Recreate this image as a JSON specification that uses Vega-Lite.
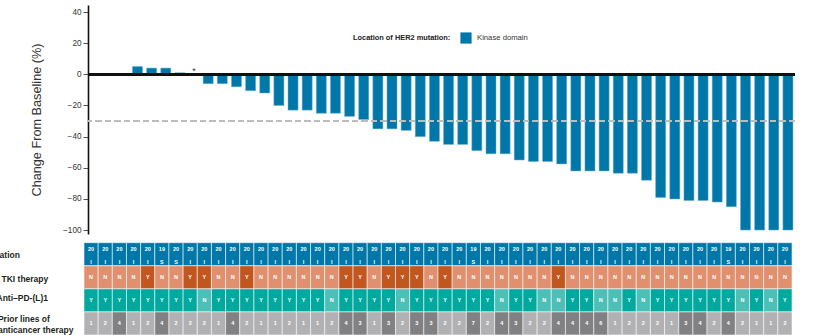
{
  "$schema": "https://vega.github.io/schema/vega-lite/v6.json",
  "width": 707,
  "height": 330,
  "autosize": {"type": "none"},
  "padding": {"left": 88, "top": 5, "right": 20, "bottom": 0},
  "config": {
    "font": "Liberation Sans",
    "view": {"stroke": null}
  },
  "data": {
    "values": [
      {"id": 0, "chg": null, "exon": "20", "type": "I", "tki": "N", "pd": "Y", "lines": 1, "note": ""},
      {"id": 1, "chg": null, "exon": "20", "type": "I", "tki": "N", "pd": "Y", "lines": 2, "note": ""},
      {"id": 2, "chg": null, "exon": "20", "type": "I", "tki": "N", "pd": "Y", "lines": 4, "note": ""},
      {"id": 3, "chg": 5, "exon": "20", "type": "I", "tki": "N", "pd": "Y", "lines": 1, "note": ""},
      {"id": 4, "chg": 4, "exon": "20", "type": "I", "tki": "Y", "pd": "Y", "lines": 2, "note": ""},
      {"id": 5, "chg": 4, "exon": "19", "type": "S", "tki": "N", "pd": "Y", "lines": 4, "note": ""},
      {"id": 6, "chg": 1, "exon": "20", "type": "S", "tki": "N", "pd": "Y", "lines": 2, "note": ""},
      {"id": 7, "chg": 0, "exon": "20", "type": "I", "tki": "Y", "pd": "Y", "lines": 2, "note": "*"},
      {"id": 8, "chg": -6, "exon": "20", "type": "I", "tki": "Y", "pd": "N", "lines": 2, "note": ""},
      {"id": 9, "chg": -6, "exon": "20", "type": "I", "tki": "N", "pd": "Y", "lines": 1, "note": ""},
      {"id": 10, "chg": -8, "exon": "20", "type": "I", "tki": "N", "pd": "Y", "lines": 4, "note": ""},
      {"id": 11, "chg": -10.5, "exon": "20", "type": "I", "tki": "Y", "pd": "Y", "lines": 2, "note": ""},
      {"id": 12, "chg": -12, "exon": "20", "type": "I", "tki": "N", "pd": "Y", "lines": 1, "note": ""},
      {"id": 13, "chg": -20, "exon": "20", "type": "I", "tki": "N", "pd": "Y", "lines": 1, "note": ""},
      {"id": 14, "chg": -23, "exon": "20", "type": "I", "tki": "N", "pd": "Y", "lines": 2, "note": ""},
      {"id": 15, "chg": -23, "exon": "20", "type": "I", "tki": "N", "pd": "Y", "lines": 1, "note": ""},
      {"id": 16, "chg": -25, "exon": "20", "type": "I", "tki": "N", "pd": "Y", "lines": 1, "note": ""},
      {"id": 17, "chg": -25, "exon": "20", "type": "I", "tki": "N", "pd": "N", "lines": 2, "note": ""},
      {"id": 18, "chg": -27, "exon": "20", "type": "I", "tki": "Y", "pd": "Y", "lines": 4, "note": ""},
      {"id": 19, "chg": -29, "exon": "20", "type": "I", "tki": "Y", "pd": "Y", "lines": 3, "note": ""},
      {"id": 20, "chg": -35, "exon": "20", "type": "I", "tki": "N", "pd": "Y", "lines": 1, "note": ""},
      {"id": 21, "chg": -35, "exon": "20", "type": "I", "tki": "Y", "pd": "Y", "lines": 3, "note": ""},
      {"id": 22, "chg": -36, "exon": "20", "type": "I", "tki": "Y", "pd": "N", "lines": 2, "note": ""},
      {"id": 23, "chg": -40, "exon": "20", "type": "I", "tki": "Y", "pd": "Y", "lines": 3, "note": ""},
      {"id": 24, "chg": -43, "exon": "20", "type": "I", "tki": "N", "pd": "Y", "lines": 3, "note": ""},
      {"id": 25, "chg": -45, "exon": "20", "type": "I", "tki": "Y", "pd": "Y", "lines": 2, "note": ""},
      {"id": 26, "chg": -45, "exon": "20", "type": "I", "tki": "N", "pd": "Y", "lines": 2, "note": ""},
      {"id": 27, "chg": -49, "exon": "19", "type": "S", "tki": "N", "pd": "Y", "lines": 7, "note": ""},
      {"id": 28, "chg": -51, "exon": "20", "type": "I", "tki": "N", "pd": "Y", "lines": 2, "note": ""},
      {"id": 29, "chg": -51, "exon": "20", "type": "I", "tki": "N", "pd": "N", "lines": 4, "note": ""},
      {"id": 30, "chg": -55, "exon": "20", "type": "I", "tki": "N", "pd": "Y", "lines": 3, "note": ""},
      {"id": 31, "chg": -56, "exon": "20", "type": "I", "tki": "N", "pd": "Y", "lines": 2, "note": ""},
      {"id": 32, "chg": -56, "exon": "20", "type": "I", "tki": "N", "pd": "N", "lines": 2, "note": ""},
      {"id": 33, "chg": -57.5, "exon": "20", "type": "I", "tki": "Y", "pd": "N", "lines": 4, "note": ""},
      {"id": 34, "chg": -62, "exon": "20", "type": "I", "tki": "N", "pd": "Y", "lines": 4, "note": ""},
      {"id": 35, "chg": -62, "exon": "20", "type": "I", "tki": "N", "pd": "Y", "lines": 4, "note": ""},
      {"id": 36, "chg": -62, "exon": "20", "type": "I", "tki": "N", "pd": "N", "lines": 6, "note": ""},
      {"id": 37, "chg": -63.5, "exon": "20", "type": "I", "tki": "N", "pd": "N", "lines": 1, "note": ""},
      {"id": 38, "chg": -63.5, "exon": "20", "type": "I", "tki": "N", "pd": "Y", "lines": 2, "note": ""},
      {"id": 39, "chg": -68, "exon": "20", "type": "I", "tki": "N", "pd": "N", "lines": 2, "note": ""},
      {"id": 40, "chg": -79, "exon": "20", "type": "I", "tki": "N", "pd": "Y", "lines": 2, "note": ""},
      {"id": 41, "chg": -80, "exon": "20", "type": "I", "tki": "N", "pd": "Y", "lines": 1, "note": ""},
      {"id": 42, "chg": -81, "exon": "20", "type": "I", "tki": "N", "pd": "Y", "lines": 3, "note": ""},
      {"id": 43, "chg": -81, "exon": "20", "type": "I", "tki": "N", "pd": "Y", "lines": 4, "note": ""},
      {"id": 44, "chg": -82, "exon": "20", "type": "I", "tki": "N", "pd": "Y", "lines": 2, "note": ""},
      {"id": 45, "chg": -85, "exon": "19", "type": "S", "tki": "N", "pd": "Y", "lines": 4, "note": ""},
      {"id": 46, "chg": -100, "exon": "20", "type": "I", "tki": "N", "pd": "N", "lines": 2, "note": ""},
      {"id": 47, "chg": -100, "exon": "20", "type": "I", "tki": "N", "pd": "Y", "lines": 1, "note": ""},
      {"id": 48, "chg": -100, "exon": "20", "type": "I", "tki": "N", "pd": "N", "lines": 1, "note": ""},
      {"id": 49, "chg": -100, "exon": "20", "type": "I", "tki": "N", "pd": "Y", "lines": 2, "note": ""}
    ]
  },
  "layer": [
    {
      "layer": [
        {
          "mark": {"type": "bar", "stroke": "#6aaed0", "strokeWidth": 0.5},
          "encoding": {
            "x": {"field": "id", "type": "ordinal", "axis": null,
                  "scale": {"paddingInner": 0.29, "paddingOuter": 0.145}},
            "y": {"field": "chg", "type": "quantitative",
                  "scale": {"domain": [-102.5, 44.5], "range": [229, 0], "nice": false, "zero": false},
                  "axis": {"values": [-100, -80, -60, -40, -20, 0, 20, 40], "grid": false,
                           "title": "Change From Baseline (%)", "titleFontSize": 12.7, "titleFontWeight": "normal",
                           "titleColor": "#333", "titlePadding": 19,
                           "labelFontSize": 8.2, "labelColor": "#333", "labelPadding": 2,
                           "tickSize": 5, "tickColor": "#555", "tickWidth": 1,
                           "domainColor": "#111", "domainWidth": 1.6}},
            "color": {"datum": "Kinase domain", "type": "nominal",
                      "scale": {"range": ["#0077a9"]},
                      "legend": {"orient": "none", "legendX": 265, "legendY": 27,
                                 "title": "Location of HER2 mutation:", "titleOrient": "left",
                                 "titleFontSize": 7.4, "titleFontWeight": "bold", "titleColor": "#222",
                                 "titlePadding": 9, "direction": "horizontal", "padding": 0,
                                 "symbolType": "square", "symbolSize": 125, "symbolStrokeWidth": 0,
                                 "symbolOpacity": 1,
                                 "labelFontSize": 7.7, "labelColor": "#333", "labelOffset": 5}}
          }
        },
        {
          "mark": {"type": "rule", "color": "#bdbdbd", "strokeWidth": 1.5, "strokeDash": [6, 3.5]},
          "encoding": {"y": {"datum": -30, "type": "quantitative"}}
        },
        {
          "mark": {"type": "rule", "color": "#111", "strokeWidth": 1.8},
          "encoding": {"y": {"datum": 0, "type": "quantitative"}}
        },
        {
          "mark": {"type": "text", "fontSize": 9, "color": "#333", "baseline": "alphabetic", "dy": 0},
          "encoding": {
            "x": {"field": "id", "type": "ordinal"},
            "y": {"datum": 0, "type": "quantitative"},
            "text": {"field": "note"}
          }
        }
      ]
    },
    {
      "layer": [
        {
          "mark": {"type": "rect", "fill": "#0077a9", "stroke": "#ffffff", "strokeWidth": 1, "strokeOpacity": 0.55},
          "encoding": {
            "x": {"field": "id", "type": "ordinal", "axis": null,
                  "scale": {"range": [-4, 704], "paddingInner": 0, "paddingOuter": 0}},
            "y": {"datum": "Mutation", "type": "nominal",
                  "scale": {"domain": ["Mutation", "TKI therapy", "Anti–PD-(L)1", "Prior lines of|anticancer therapy"],
                            "range": [237.7, 330], "paddingInner": 0, "paddingOuter": 0},
                  "axis": {"orient": "left", "title": null, "domain": false, "ticks": false, "tickSize": 0,
                           "labelAlign": "left", "labelFontSize": 8.5,
                           "labelPadding": {"condition": [
                             {"test": "datum.value == 'Mutation'", "value": 104},
                             {"test": "datum.value == 'TKI therapy'", "value": 87},
                             {"test": "datum.value == 'Anti–PD-(L)1'", "value": 92}
                           ], "value": 90.6},
                           "labelOffset": {"condition": [
                             {"test": "datum.value == 'Mutation'", "value": 1},
                             {"test": "datum.value == 'TKI therapy'", "value": 2},
                             {"test": "datum.value == 'Anti–PD-(L)1'", "value": -2}
                           ], "value": -4},
                           "labelFontWeight": "bold", "labelColor": "#231f20", "labelLineHeight": 10.5,
                           "labelExpr": "split(datum.label, '|')"}}
          }
        },
        {
          "mark": {"type": "rect", "stroke": "#ffffff", "strokeWidth": 1, "strokeOpacity": 0.55},
          "encoding": {
            "x": {"field": "id", "type": "ordinal"},
            "y": {"datum": "TKI therapy", "type": "nominal"},
            "fill": {"field": "tki", "type": "nominal",
                     "scale": {"domain": ["N", "Y"], "range": ["#e0906f", "#c1561f"]}, "legend": null}
          }
        },
        {
          "mark": {"type": "rect", "stroke": "#ffffff", "strokeWidth": 1, "strokeOpacity": 0.55},
          "encoding": {
            "x": {"field": "id", "type": "ordinal"},
            "y": {"datum": "Anti–PD-(L)1", "type": "nominal"},
            "fill": {"field": "pd", "type": "nominal",
                     "scale": {"domain": ["N", "Y"], "range": ["#4cc0b6", "#00a99e"]}, "legend": null}
          }
        },
        {
          "mark": {"type": "rect", "stroke": "#ffffff", "strokeWidth": 1, "strokeOpacity": 0.55},
          "encoding": {
            "x": {"field": "id", "type": "ordinal"},
            "y": {"datum": "Prior lines of|anticancer therapy", "type": "nominal"},
            "fill": {"field": "lines", "type": "quantitative",
                     "scale": {"type": "threshold", "domain": [3], "range": ["#b1b1b4", "#818184"]}, "legend": null}
          }
        },
        {
          "mark": {"type": "text", "fill": "#ffffff", "fontSize": 5.5, "fontWeight": "bold", "yOffset": -5},
          "encoding": {
            "x": {"field": "id", "type": "ordinal"},
            "y": {"datum": "Mutation", "type": "nominal"},
            "text": {"field": "exon"}
          }
        },
        {
          "mark": {"type": "text", "fill": "#ffffff", "fontSize": 5.5, "fontWeight": "bold", "yOffset": 8},
          "encoding": {
            "x": {"field": "id", "type": "ordinal"},
            "y": {"datum": "Mutation", "type": "nominal"},
            "text": {"field": "type"}
          }
        },
        {
          "mark": {"type": "text", "fill": "#ffffff", "fontSize": 5.5, "fontWeight": "bold"},
          "encoding": {
            "x": {"field": "id", "type": "ordinal"},
            "y": {"datum": "TKI therapy", "type": "nominal"},
            "text": {"field": "tki"}
          }
        },
        {
          "mark": {"type": "text", "fill": "#ffffff", "fontSize": 5.5, "fontWeight": "bold"},
          "encoding": {
            "x": {"field": "id", "type": "ordinal"},
            "y": {"datum": "Anti–PD-(L)1", "type": "nominal"},
            "text": {"field": "pd"}
          }
        },
        {
          "mark": {"type": "text", "fill": "#ffffff", "fontSize": 5.5, "fontWeight": "bold"},
          "encoding": {
            "x": {"field": "id", "type": "ordinal"},
            "y": {"datum": "Prior lines of|anticancer therapy", "type": "nominal"},
            "text": {"field": "lines", "type": "quantitative"}
          }
        }
      ],
      "resolve": {"scale": {"fill": "independent"}}
    }
  ],
  "resolve": {"scale": {"x": "independent", "y": "independent"}}
}
